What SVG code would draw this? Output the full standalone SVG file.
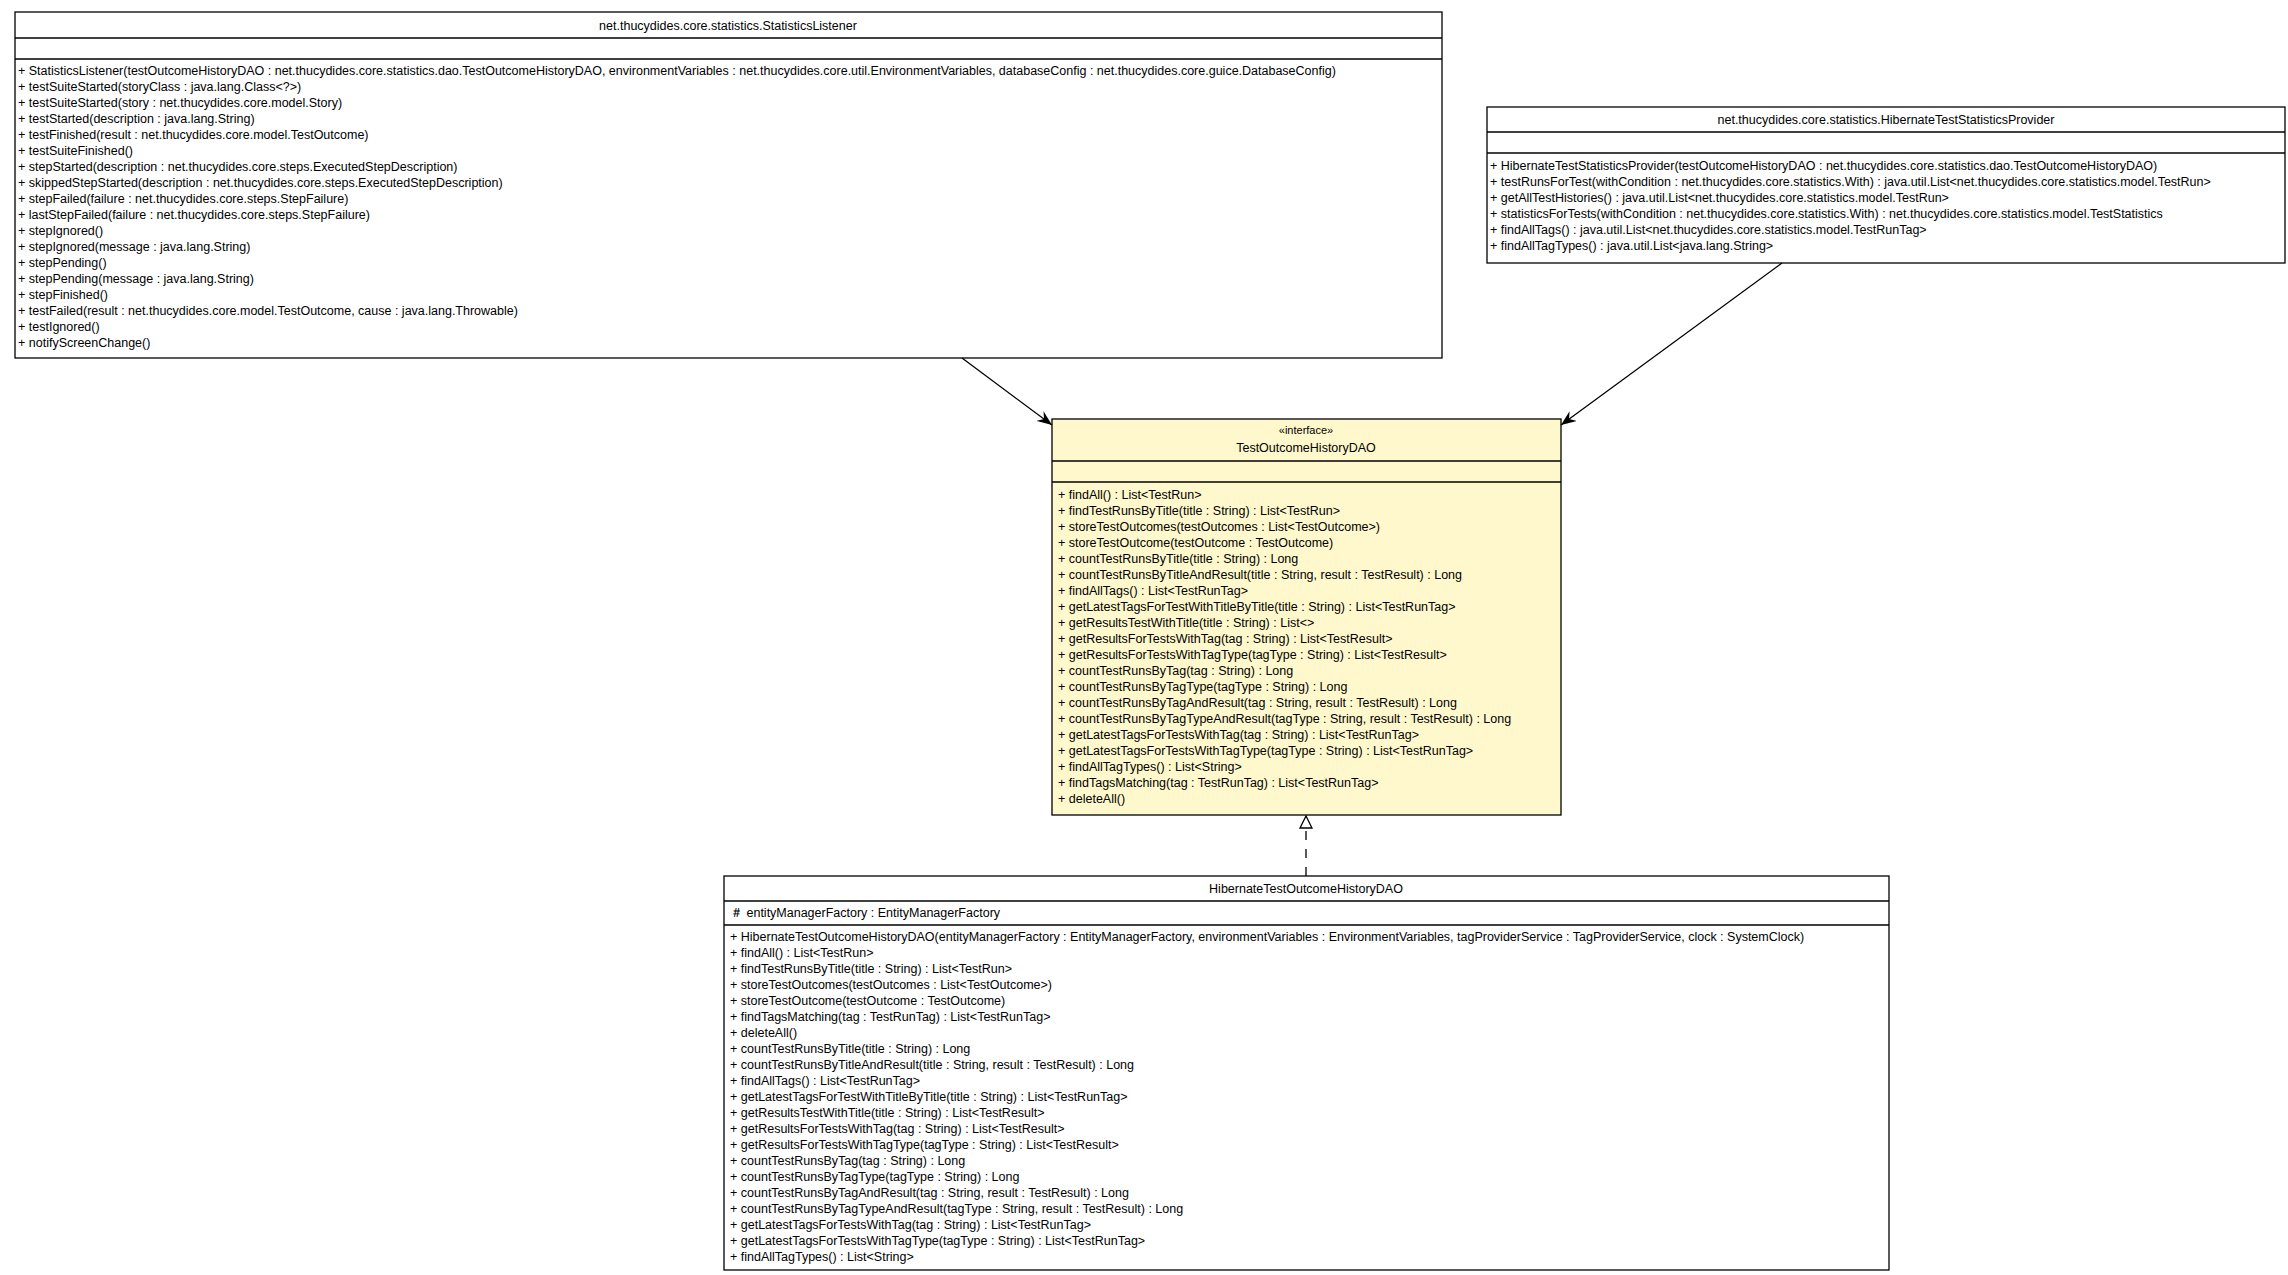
<svg xmlns="http://www.w3.org/2000/svg" width="2288" height="1275" viewBox="0 0 2288 1275">
<style>
text{font-family:"Liberation Sans",Arial,sans-serif;font-size:12.5px;fill:#000}
.c{text-anchor:middle}
.box{fill:#fff;stroke:#000;stroke-width:1.3}
.ifc{fill:#fff8cc;stroke:#000;stroke-width:1.3}
.sep{stroke:#000;stroke-width:1.3}
.edge{stroke:#000;stroke-width:1.3;fill:none}
</style>
<defs>
<marker id="open" markerWidth="16" markerHeight="12" refX="15" refY="6" orient="auto" markerUnits="userSpaceOnUse"><path d="M0,0 L15,6 L0,12 L5,6 Z" fill="#000"/></marker>
<marker id="tri" markerWidth="14" markerHeight="16" refX="13" refY="7" orient="auto" markerUnits="userSpaceOnUse"><path d="M1,1 L13,7 L1,13 Z" fill="#fff" stroke="#000" stroke-width="1.3"/></marker>
</defs>
<rect width="2288" height="1275" fill="#fff"/>
<g id="StatisticsListener">
<rect class="box" x="15" y="12" width="1427" height="346"/>
<text class="c" x="728" y="30">net.thucydides.core.statistics.StatisticsListener</text>
<line class="sep" x1="15" y1="38" x2="1442" y2="38"/>
<line class="sep" x1="15" y1="59" x2="1442" y2="59"/>
<text x="18" y="75">+ StatisticsListener(testOutcomeHistoryDAO : net.thucydides.core.statistics.dao.TestOutcomeHistoryDAO, environmentVariables : net.thucydides.core.util.EnvironmentVariables, databaseConfig : net.thucydides.core.guice.DatabaseConfig)</text>
<text x="18" y="91">+ testSuiteStarted(storyClass : java.lang.Class&lt;?&gt;)</text>
<text x="18" y="107">+ testSuiteStarted(story : net.thucydides.core.model.Story)</text>
<text x="18" y="123">+ testStarted(description : java.lang.String)</text>
<text x="18" y="139">+ testFinished(result : net.thucydides.core.model.TestOutcome)</text>
<text x="18" y="155">+ testSuiteFinished()</text>
<text x="18" y="171">+ stepStarted(description : net.thucydides.core.steps.ExecutedStepDescription)</text>
<text x="18" y="187">+ skippedStepStarted(description : net.thucydides.core.steps.ExecutedStepDescription)</text>
<text x="18" y="203">+ stepFailed(failure : net.thucydides.core.steps.StepFailure)</text>
<text x="18" y="219">+ lastStepFailed(failure : net.thucydides.core.steps.StepFailure)</text>
<text x="18" y="235">+ stepIgnored()</text>
<text x="18" y="251">+ stepIgnored(message : java.lang.String)</text>
<text x="18" y="267">+ stepPending()</text>
<text x="18" y="283">+ stepPending(message : java.lang.String)</text>
<text x="18" y="299">+ stepFinished()</text>
<text x="18" y="315">+ testFailed(result : net.thucydides.core.model.TestOutcome, cause : java.lang.Throwable)</text>
<text x="18" y="331">+ testIgnored()</text>
<text x="18" y="347">+ notifyScreenChange()</text>
</g>
<g id="HibernateTestStatisticsProvider">
<rect class="box" x="1487" y="107" width="798" height="156"/>
<text class="c" x="1886" y="124">net.thucydides.core.statistics.HibernateTestStatisticsProvider</text>
<line class="sep" x1="1487" y1="132" x2="2285" y2="132"/>
<line class="sep" x1="1487" y1="153" x2="2285" y2="153"/>
<text x="1490" y="170">+ HibernateTestStatisticsProvider(testOutcomeHistoryDAO : net.thucydides.core.statistics.dao.TestOutcomeHistoryDAO)</text>
<text x="1490" y="186">+ testRunsForTest(withCondition : net.thucydides.core.statistics.With) : java.util.List&lt;net.thucydides.core.statistics.model.TestRun&gt;</text>
<text x="1490" y="202">+ getAllTestHistories() : java.util.List&lt;net.thucydides.core.statistics.model.TestRun&gt;</text>
<text x="1490" y="218">+ statisticsForTests(withCondition : net.thucydides.core.statistics.With) : net.thucydides.core.statistics.model.TestStatistics</text>
<text x="1490" y="234">+ findAllTags() : java.util.List&lt;net.thucydides.core.statistics.model.TestRunTag&gt;</text>
<text x="1490" y="250">+ findAllTagTypes() : java.util.List&lt;java.lang.String&gt;</text>
</g>
<g id="TestOutcomeHistoryDAO">
<rect class="ifc" x="1052" y="419" width="509" height="396"/>
<text class="c" x="1306" y="434" style="font-size:11px">«interface»</text>
<text class="c" x="1306" y="452">TestOutcomeHistoryDAO</text>
<line class="sep" x1="1052" y1="461" x2="1561" y2="461"/>
<line class="sep" x1="1052" y1="482" x2="1561" y2="482"/>
<text x="1058" y="499">+ findAll() : List&lt;TestRun&gt;</text>
<text x="1058" y="515">+ findTestRunsByTitle(title : String) : List&lt;TestRun&gt;</text>
<text x="1058" y="531">+ storeTestOutcomes(testOutcomes : List&lt;TestOutcome&gt;)</text>
<text x="1058" y="547">+ storeTestOutcome(testOutcome : TestOutcome)</text>
<text x="1058" y="563">+ countTestRunsByTitle(title : String) : Long</text>
<text x="1058" y="579">+ countTestRunsByTitleAndResult(title : String, result : TestResult) : Long</text>
<text x="1058" y="595">+ findAllTags() : List&lt;TestRunTag&gt;</text>
<text x="1058" y="611">+ getLatestTagsForTestWithTitleByTitle(title : String) : List&lt;TestRunTag&gt;</text>
<text x="1058" y="627">+ getResultsTestWithTitle(title : String) : List&lt;&gt;</text>
<text x="1058" y="643">+ getResultsForTestsWithTag(tag : String) : List&lt;TestResult&gt;</text>
<text x="1058" y="659">+ getResultsForTestsWithTagType(tagType : String) : List&lt;TestResult&gt;</text>
<text x="1058" y="675">+ countTestRunsByTag(tag : String) : Long</text>
<text x="1058" y="691">+ countTestRunsByTagType(tagType : String) : Long</text>
<text x="1058" y="707">+ countTestRunsByTagAndResult(tag : String, result : TestResult) : Long</text>
<text x="1058" y="723">+ countTestRunsByTagTypeAndResult(tagType : String, result : TestResult) : Long</text>
<text x="1058" y="739">+ getLatestTagsForTestsWithTag(tag : String) : List&lt;TestRunTag&gt;</text>
<text x="1058" y="755">+ getLatestTagsForTestsWithTagType(tagType : String) : List&lt;TestRunTag&gt;</text>
<text x="1058" y="771">+ findAllTagTypes() : List&lt;String&gt;</text>
<text x="1058" y="787">+ findTagsMatching(tag : TestRunTag) : List&lt;TestRunTag&gt;</text>
<text x="1058" y="803">+ deleteAll()</text>
</g>
<g id="HibernateTestOutcomeHistoryDAO">
<rect class="box" x="724" y="876" width="1165" height="394"/>
<text class="c" x="1306" y="893">HibernateTestOutcomeHistoryDAO</text>
<line class="sep" x1="724" y1="901" x2="1889" y2="901"/>
<text x="730" y="917">＃ entityManagerFactory : EntityManagerFactory</text>
<line class="sep" x1="724" y1="925" x2="1889" y2="925"/>
<text x="730" y="941">+ HibernateTestOutcomeHistoryDAO(entityManagerFactory : EntityManagerFactory, environmentVariables : EnvironmentVariables, tagProviderService : TagProviderService, clock : SystemClock)</text>
<text x="730" y="957">+ findAll() : List&lt;TestRun&gt;</text>
<text x="730" y="973">+ findTestRunsByTitle(title : String) : List&lt;TestRun&gt;</text>
<text x="730" y="989">+ storeTestOutcomes(testOutcomes : List&lt;TestOutcome&gt;)</text>
<text x="730" y="1005">+ storeTestOutcome(testOutcome : TestOutcome)</text>
<text x="730" y="1021">+ findTagsMatching(tag : TestRunTag) : List&lt;TestRunTag&gt;</text>
<text x="730" y="1037">+ deleteAll()</text>
<text x="730" y="1053">+ countTestRunsByTitle(title : String) : Long</text>
<text x="730" y="1069">+ countTestRunsByTitleAndResult(title : String, result : TestResult) : Long</text>
<text x="730" y="1085">+ findAllTags() : List&lt;TestRunTag&gt;</text>
<text x="730" y="1101">+ getLatestTagsForTestWithTitleByTitle(title : String) : List&lt;TestRunTag&gt;</text>
<text x="730" y="1117">+ getResultsTestWithTitle(title : String) : List&lt;TestResult&gt;</text>
<text x="730" y="1133">+ getResultsForTestsWithTag(tag : String) : List&lt;TestResult&gt;</text>
<text x="730" y="1149">+ getResultsForTestsWithTagType(tagType : String) : List&lt;TestResult&gt;</text>
<text x="730" y="1165">+ countTestRunsByTag(tag : String) : Long</text>
<text x="730" y="1181">+ countTestRunsByTagType(tagType : String) : Long</text>
<text x="730" y="1197">+ countTestRunsByTagAndResult(tag : String, result : TestResult) : Long</text>
<text x="730" y="1213">+ countTestRunsByTagTypeAndResult(tagType : String, result : TestResult) : Long</text>
<text x="730" y="1229">+ getLatestTagsForTestsWithTag(tag : String) : List&lt;TestRunTag&gt;</text>
<text x="730" y="1245">+ getLatestTagsForTestsWithTagType(tagType : String) : List&lt;TestRunTag&gt;</text>
<text x="730" y="1261">+ findAllTagTypes() : List&lt;String&gt;</text>
</g>
<g id="connectors">
<line class="edge" x1="962" y1="358" x2="1052" y2="425" marker-end="url(#open)"/>
<line class="edge" x1="1782" y1="263" x2="1561" y2="425" marker-end="url(#open)"/>
<line class="edge" x1="1306" y1="876" x2="1306" y2="816" stroke-dasharray="9,9" marker-end="url(#tri)"/>
</g>
</svg>
